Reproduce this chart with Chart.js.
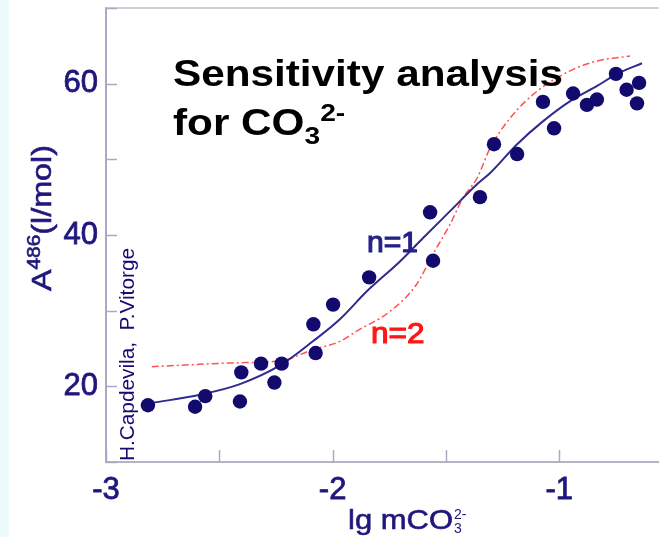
<!DOCTYPE html>
<html><head><meta charset="utf-8">
<script src="https://cdn.jsdelivr.net/npm/chart.js@4/dist/chart.umd.min.js"></script>
<style>
html,body{margin:0;padding:0;background:#fff;}
#wrap{position:relative;width:659px;height:537px;background:linear-gradient(to right,#eefbfd 0,#eefbfd 9px,#ffffff 9px);}
canvas{display:block;}
</style></head><body>
<div id="wrap"><canvas id="c" width="659" height="537"></canvas></div>
<script>
// measured points (lg m, A486)
const measuredX = [-2.815,-2.607,-2.562,-2.409,-2.403,-2.316,-2.257,-2.225,-2.085,-2.075,-1.998,-1.839,-1.570,-1.557,-1.350,-1.288,-1.186,-1.072,-1.023,-0.939,-0.878,-0.834,-0.750,-0.703,-0.648,-0.657];
const measuredY = [17.5,17.3,18.7,18.0,21.85,23.0,20.5,23.0,28.2,24.4,30.8,34.4,43.0,36.6,45.0,52.0,50.7,57.6,54.1,58.7,57.2,57.9,61.3,59.2,60.1,57.4];
// fitted curve n=1
const fitN1X = [-2.797,-2.585,-2.409,-2.225,-2.087,-1.967,-1.848,-1.703,-1.601,-1.482,-1.363,-1.305,-1.186,-1.071,-0.952,-0.833,-0.745,-0.635];
const fitN1Y = [17.8,18.9,20.3,22.9,25.95,28.9,32.6,36.5,39.6,43.15,46.7,48.2,52.0,55.05,57.7,59.7,61.3,62.7];
// fitted curve n=2
const fitN2X = [-2.798,-2.440,-2.225,-2.087,-1.967,-1.894,-1.747,-1.629,-1.557,-1.482,-1.425,-1.363,-1.305,-1.217,-1.098,-0.952,-0.833,-0.688];
const fitN2Y = [22.6,23.1,23.4,24.85,25.95,27.3,29.9,33.5,37.5,41.4,44.9,47.5,51.5,55.45,59.0,61.7,63.0,63.65];
// axis ticks
const xTickLabels = [-3,-2,-1];
const yTickLabels = [20,40,60];

const NAVY_TEXT = '#1e177c';
const POINT_COL = '#130a6e';
const FONT = '"Liberation Sans", Arial, Helvetica, sans-serif';

function toXY(xs, ys){ return xs.map((x,i)=>({x:x, y:ys[i]})); }

function drawRuns(ctx, runs, x, y, sx, stroke){
  let cx = x;
  for (const r of runs){
    ctx.font = (r.bold?'bold ':'') + r.size + 'px ' + FONT;
    const w = ctx.measureText(r.t).width;
    ctx.save(); ctx.translate(cx, y + (r.dy||0)); ctx.scale(sx,1);
    ctx.fillText(r.t,0,0);
    if (stroke) { ctx.strokeStyle = ctx.fillStyle; ctx.lineWidth = stroke; ctx.strokeText(r.t,0,0); }
    ctx.restore();
    if (!r.noAdvance) cx += w*sx;
  }
  return cx;
}
function runsWidth(ctx, runs){
  let w=0; for (const r of runs){ if(r.noAdvance) continue; ctx.font=(r.bold?'bold ':'')+r.size+'px '+FONT; w+=ctx.measureText(r.t).width; } return w;
}
function noPad(s){ s.paddingTop=0; s.paddingBottom=0; s.paddingLeft=0; s.paddingRight=0; }

const decor = {
  id:'decor',
  afterDatasetsDraw(chart){
    const ctx = chart.ctx, ca = chart.chartArea;
    const xs = chart.scales.x, ys = chart.scales.y;
    ctx.save();
    // top border
    ctx.strokeStyle = '#cfcfd4'; ctx.lineWidth = 2;
    ctx.beginPath(); ctx.moveTo(ca.left, ca.top); ctx.lineTo(ca.right, ca.top); ctx.stroke();
    // inward tick marks
    ctx.strokeStyle = '#a9a9c4'; ctx.lineWidth = 1.5;
    ys.ticks.forEach(t=>{ const p = Math.round(ys.getPixelForValue(t.value))+0.5; ctx.beginPath(); ctx.moveTo(ca.left, p); ctx.lineTo(ca.left+11, p); ctx.stroke(); });
    xs.ticks.forEach(t=>{ if (Math.abs(t.value*2 - Math.round(t.value*2))>1e-6) return; const p = Math.round(xs.getPixelForValue(t.value))+0.5; ctx.beginPath(); ctx.moveTo(p, ca.bottom); ctx.lineTo(p, ca.bottom-12); ctx.stroke(); });

    ctx.textBaseline = 'alphabetic'; ctx.textAlign = 'left';
    // title
    ctx.fillStyle = '#000';
    const l1 = [{t:'Sensitivity analysis', size:36, bold:true}];
    const sxT = 390 / runsWidth(ctx, l1);
    drawRuns(ctx, l1, 173, 86, sxT);
    drawRuns(ctx, [{t:'for CO', size:36, bold:true},{t:'3', size:24, bold:true, dy:9},{t:'2-', size:24, bold:true, dy:-14}], 173, 135, sxT);

    // curve labels
    ctx.fillStyle = '#262089';
    drawRuns(ctx, [{t:'n=1', size:30}], 367, 252, 1.0, 1.2);
    ctx.fillStyle = '#ff1616';
    drawRuns(ctx, [{t:'n=2', size:30}], 371, 343, 1.05, 1.2);

    // x axis title
    ctx.fillStyle = NAVY_TEXT;
    const xt = [{t:'lg mCO', size:28}];
    const sxX = 105 / runsWidth(ctx, xt);
    const endX = drawRuns(ctx, xt, 348, 529, sxX, 0.6);
    drawRuns(ctx, [{t:'2-', size:14, dy:-10, noAdvance:true}], endX+1, 529, 1.0);
    drawRuns(ctx, [{t:'3', size:14, dy:4}], endX+1, 529, 1.0);

    // y axis title (rotated)
    ctx.save();
    ctx.translate(51, 291); ctx.rotate(-Math.PI/2);
    const yt = [{t:'A', size:28},{t:'486', size:18, dy:-11},{t:'(l/mol)', size:28}];
    drawRuns(ctx, yt, 0, 0, 146 / runsWidth(ctx, yt), 0.6);
    ctx.restore();

    // credits (rotated)
    ctx.save();
    ctx.translate(134, 461); ctx.rotate(-Math.PI/2);
    ctx.fillStyle = '#140c70';
    const ct = [{t:'H.Capdevila,  P.Vitorge', size:20}];
    drawRuns(ctx, ct, 0, 0, 213 / runsWidth(ctx, ct));
    ctx.restore();
    ctx.restore();
  }
};

new Chart(document.getElementById('c'), {
  type:'scatter',
  data:{ datasets:[
    { label:'measured', data: toXY(measuredX, measuredY), backgroundColor: POINT_COL, borderColor: POINT_COL, pointRadius:7.2, borderWidth:0, showLine:false },
    { label:'n=1', data: toXY(fitN1X, fitN1Y), showLine:true, borderColor:'#2f2b8e', borderWidth:2, pointRadius:0, cubicInterpolationMode:'monotone', fill:false },
    { label:'n=2', data: toXY(fitN2X, fitN2Y), showLine:true, borderColor:'rgba(255,50,50,0.85)', borderWidth:1.5, borderDash:[7,3,2,3], pointRadius:0, cubicInterpolationMode:'monotone', fill:false }
  ]},
  options:{
    responsive:false, animation:false, devicePixelRatio:1,
    layout:{ autoPadding:false, padding:{ left:0, right:0, top:8, bottom:0 } },
    plugins:{ legend:{display:false}, tooltip:{enabled:false} },
    scales:{
      x:{ type:'linear', min:-3, max:-0.56,
        afterFit(s){ s.height = 75; noPad(s); },
        grid:{ display:false, drawTicks:false },
        border:{ display:true, color:'#b3b3c2', width:2 },
        ticks:{ stepSize:0.5, includeBounds:false, padding:10, color:NAVY_TEXT, textStrokeColor:NAVY_TEXT, textStrokeWidth:0.8, font:{ family:FONT, size:31 },
          callback:(v)=> xTickLabels.includes(Math.round(v*1000)/1000) ? String(v) : '' , maxRotation:0, autoSkip:false }
      },
      y:{ type:'linear', min:10, max:70,
        afterFit(s){ s.width = 106; noPad(s); },
        grid:{ display:false, drawTicks:false },
        border:{ display:true, color:'#abaac6', width:2 },
        ticks:{ stepSize:10, padding:8, color:NAVY_TEXT, textStrokeColor:NAVY_TEXT, textStrokeWidth:0.8, font:{ family:FONT, size:31 },
          callback:(v)=> yTickLabels.includes(v) ? String(v) : '' }
      }
    }
  },
  plugins:[decor]
});
</script>
</body></html>
